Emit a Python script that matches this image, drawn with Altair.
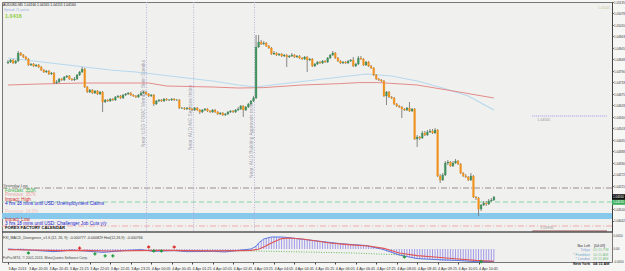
import altair as alt
import pandas as pd

# ---------------- data ----------------
first_open = 1.04830
close = [
    1.04835, 1.04845, 1.04830, 1.04840, 1.04880, 1.04870, 1.04860, 1.04850, 1.04820, 1.04825,
    1.04815, 1.04820, 1.04810, 1.04795, 1.04785, 1.04790, 1.04775, 1.04780, 1.04730, 1.04735,
    1.04750, 1.04745, 1.04760, 1.04765, 1.04750, 1.04745, 1.04750, 1.04770, 1.04785, 1.04800,
    1.04710, 1.04685, 1.04695, 1.04680, 1.04690, 1.04675, 1.04685, 1.04635, 1.04645, 1.04640,
    1.04650, 1.04645, 1.04660, 1.04665, 1.04655, 1.04670, 1.04675, 1.04680, 1.04670, 1.04665,
    1.04660, 1.04670, 1.04680, 1.04685, 1.04675, 1.04665, 1.04670, 1.04625, 1.04640, 1.04645,
    1.04640, 1.04650, 1.04645, 1.04645, 1.04650, 1.04645, 1.04645, 1.04605, 1.04605, 1.04600,
    1.04605, 1.04600, 1.04595, 1.04605, 1.04595, 1.04585, 1.04595, 1.04600, 1.04590, 1.04585,
    1.04595, 1.04585, 1.04575, 1.04580, 1.04570, 1.04575, 1.04585, 1.04590, 1.04585, 1.04595,
    1.04600, 1.04615, 1.04595, 1.04610, 1.04625, 1.04640, 1.04655, 1.04910, 1.04935, 1.04925,
    1.04930, 1.04915, 1.04905, 1.04875, 1.04880, 1.04870, 1.04875, 1.04865, 1.04870, 1.04860,
    1.04865, 1.04870, 1.04860, 1.04865, 1.04855, 1.04850, 1.04860, 1.04845, 1.04850, 1.04815,
    1.04825, 1.04835, 1.04830, 1.04840, 1.04835, 1.04855, 1.04870, 1.04880, 1.04855, 1.04840,
    1.04830, 1.04835, 1.04830, 1.04840, 1.04845, 1.04815, 1.04825, 1.04855, 1.04850, 1.04820,
    1.04835, 1.04815, 1.04805, 1.04770, 1.04750, 1.04745, 1.04740, 1.04665, 1.04685, 1.04660,
    1.04655, 1.04625, 1.04615, 1.04610, 1.04600, 1.04595, 1.04605, 1.04590, 1.04600, 1.04450,
    1.04460, 1.04455, 1.04480, 1.04470, 1.04485, 1.04490, 1.04480, 1.04495, 1.04265, 1.04245,
    1.04270, 1.04330, 1.04335, 1.04315, 1.04330, 1.04340, 1.04325, 1.04280, 1.04265, 1.04260,
    1.04245, 1.04265, 1.04160, 1.04155, 1.04100, 1.04120, 1.04130, 1.04125, 1.04140, 1.04145,
    1.04160,
]
high = [
    1.04845, 1.04850, 1.04850, 1.04845, 1.04890, 1.04885, 1.04875, 1.04865, 1.04855, 1.04830,
    1.04830, 1.04825, 1.04825, 1.04815, 1.04800, 1.04795, 1.04795, 1.04785, 1.04785, 1.04745,
    1.04755, 1.04755, 1.04765, 1.04770, 1.04770, 1.04755, 1.04760, 1.04775, 1.04790, 1.04810,
    1.04805, 1.04715, 1.04700, 1.04700, 1.04695, 1.04695, 1.04690, 1.04690, 1.04650, 1.04650,
    1.04655, 1.04655, 1.04665, 1.04670, 1.04670, 1.04675, 1.04680, 1.04685, 1.04685, 1.04675,
    1.04670, 1.04675, 1.04690, 1.04690, 1.04690, 1.04680, 1.04675, 1.04675, 1.04645, 1.04650,
    1.04650, 1.04655, 1.04655, 1.04650, 1.04655, 1.04655, 1.04650, 1.04650, 1.04610, 1.04610,
    1.04610, 1.04610, 1.04605, 1.04610, 1.04610, 1.04600, 1.04600, 1.04605, 1.04605, 1.04595,
    1.04600, 1.04600, 1.04590, 1.04585, 1.04585, 1.04580, 1.04590, 1.04595, 1.04595, 1.04600,
    1.04610, 1.04620, 1.04620, 1.04615, 1.04630, 1.04645, 1.04665, 1.04970, 1.04970, 1.04945,
    1.04940, 1.04935, 1.04920, 1.04910, 1.04890, 1.04885, 1.04880, 1.04880, 1.04875, 1.04875,
    1.04870, 1.04880, 1.04875, 1.04870, 1.04870, 1.04860, 1.04865, 1.04865, 1.04855, 1.04855,
    1.04830, 1.04840, 1.04840, 1.04845, 1.04845, 1.04860, 1.04875, 1.04890, 1.04885, 1.04860,
    1.04845, 1.04840, 1.04840, 1.04845, 1.04850, 1.04860, 1.04830, 1.04865, 1.04865, 1.04855,
    1.04840, 1.04840, 1.04820, 1.04810, 1.04775, 1.04755, 1.04750, 1.04745, 1.04690, 1.04690,
    1.04665, 1.04660, 1.04630, 1.04620, 1.04615, 1.04605, 1.04610, 1.04635, 1.04605, 1.04605,
    1.04470, 1.04465, 1.04490, 1.04490, 1.04495, 1.04500, 1.04500, 1.04505, 1.04500, 1.04275,
    1.04280, 1.04340, 1.04345, 1.04340, 1.04340, 1.04350, 1.04345, 1.04330, 1.04285, 1.04275,
    1.04265, 1.04280, 1.04270, 1.04165, 1.04160, 1.04125, 1.04140, 1.04140, 1.04150, 1.04155,
    1.04165,
]
low = [
    1.04825, 1.04830, 1.04825, 1.04825, 1.04835, 1.04865, 1.04855, 1.04845, 1.04815, 1.04815,
    1.04810, 1.04810, 1.04805, 1.04790, 1.04780, 1.04780, 1.04770, 1.04770, 1.04725, 1.04725,
    1.04730, 1.04740, 1.04740, 1.04755, 1.04745, 1.04740, 1.04740, 1.04745, 1.04765, 1.04780,
    1.04705, 1.04680, 1.04680, 1.04675, 1.04675, 1.04670, 1.04670, 1.04585, 1.04630, 1.04635,
    1.04635, 1.04640, 1.04640, 1.04655, 1.04650, 1.04650, 1.04665, 1.04670, 1.04665, 1.04660,
    1.04655, 1.04655, 1.04665, 1.04675, 1.04670, 1.04660, 1.04660, 1.04615, 1.04620, 1.04635,
    1.04635, 1.04635, 1.04640, 1.04640, 1.04640, 1.04640, 1.04640, 1.04600, 1.04600, 1.04595,
    1.04595, 1.04595, 1.04590, 1.04590, 1.04590, 1.04575, 1.04580, 1.04590, 1.04585, 1.04580,
    1.04580, 1.04580, 1.04570, 1.04570, 1.04565, 1.04565, 1.04570, 1.04580, 1.04580, 1.04580,
    1.04590, 1.04595, 1.04560, 1.04590, 1.04605, 1.04620, 1.04635, 1.04650, 1.04905, 1.04920,
    1.04920, 1.04910, 1.04900, 1.04870, 1.04870, 1.04865, 1.04865, 1.04860, 1.04860, 1.04810,
    1.04855, 1.04860, 1.04855, 1.04855, 1.04850, 1.04845, 1.04845, 1.04785, 1.04840, 1.04810,
    1.04810, 1.04820, 1.04825, 1.04825, 1.04830, 1.04830, 1.04850, 1.04865, 1.04850, 1.04835,
    1.04825, 1.04825, 1.04825, 1.04825, 1.04835, 1.04810, 1.04810, 1.04820, 1.04845, 1.04815,
    1.04815, 1.04810, 1.04800, 1.04765, 1.04745, 1.04740, 1.04735, 1.04660, 1.04620, 1.04655,
    1.04650, 1.04620, 1.04610, 1.04605, 1.04555, 1.04590, 1.04590, 1.04585, 1.04585, 1.04445,
    1.04410, 1.04445, 1.04450, 1.04465, 1.04465, 1.04480, 1.04475, 1.04475, 1.04260, 1.04230,
    1.04240, 1.04265, 1.04320, 1.04310, 1.04310, 1.04325, 1.04320, 1.04275, 1.04260, 1.04255,
    1.04240, 1.04240, 1.04155, 1.04145, 1.04065, 1.04090, 1.04115, 1.04115, 1.04120, 1.04135,
    1.04140,
]

# moving averages (sampled at bar numbers)
ma_slow_bar = [0, 10, 20, 30, 40, 50, 60, 70, 80, 90, 97, 100, 110, 120, 130, 140, 150, 160, 170, 180, 190]
ma_slow = [1.04855, 1.04840, 1.04825, 1.04810, 1.04795, 1.04785, 1.04770, 1.04755, 1.04740, 1.04720, 1.04710,
           1.04715, 1.04730, 1.04745, 1.04760, 1.04775, 1.04765, 1.04740, 1.04705, 1.04665, 1.04595]
ma_fast_bar = [0, 12, 30, 55, 62, 80, 90, 100, 115, 130, 137, 145, 160, 176, 190]
ma_fast = [1.04720, 1.04725, 1.04730, 1.04730, 1.04715, 1.04710, 1.04705, 1.04707, 1.04720, 1.04727,
           1.04732, 1.04732, 1.04720, 1.04686, 1.04655]

# horizontal levels
level_price = [1.04205, 1.04135, 1.04015]
level_color = ["#9b8c8c", "#86d3a4", "#f2aaaa"]
level_dash = [[6, 2, 1, 2], [5, 3], [6, 2, 1, 2]]
band_top, band_bot = 1.04080, 1.04050
future_price = [1.04565, 1.03990]
future_color = ["#a393f0", "#a04848"]
future_label = ["1.04565", "1.03990"]

# news markers
news_time = ["2013-04-03 23:56", "2013-04-04 01:28", "2013-04-04 03:27"]
news_text = ["Near: USD FOMC Member Stein Speaks", "Near: AUD AIG Services Index",
             "Near: AUD Building Approvals m/m"]
news_text_price = [1.04410, 1.04395, 1.04255]

# MACD divergence indicator (points = 0.00001)
macd_hist_pts = [
    2, 3, 0, -2, 5, 6, 4, 2, -3, -5,
    -6, -8, -9, -11, -13, -14, -15, -15, -20, -22,
    -20, -19, -17, -15, -14, -13, -11, -9, -6, -3,
    -10, -15, -18, -20, -21, -22, -22, -26, -27, -27,
    -26, -25, -23, -21, -20, -18, -16, -14, -13, -12,
    -11, -10, -8, -6, -6, -7, -8, -13, -15, -16,
    -16, -15, -15, -14, -13, -13, -12, -16, -18, -19,
    -20, -20, -21, -21, -21, -22, -21, -21, -21, -22,
    -21, -21, -22, -23, -23, -23, -22, -21, -20, -19,
    -18, -15, -16, -14, -10, -6, -1, 25, 45, 60,
    72, 80, 85, 88, 90, 90, 89, 88, 86, 84,
    82, 80, 78, 76, 74, 72, 70, 68, 65, 62,
    60, 58, 56, 54, 52, 51, 50, 50, 46, 42,
    39, 37, 35, 33, 32, 30, 28, 28, 27, 25,
    25, 24, 22, 18, 13, 8, 2, -10, -18, -24,
    -30, -36, -41, -46, -50, -54, -57, -60, -62, -70,
    -74, -76, -77, -77, -76, -75, -74, -73, -82, -88,
    -91, -90, -89, -88, -87, -86, -86, -88, -90, -91,
    -92, -92, -95, -96, -97, -97, -97, -96, -95, -94,
    -93,
]
signal_bar = [0, 10, 20, 30, 40, 50, 60, 70, 80, 90, 95, 98, 100, 103, 107, 110, 115, 120, 126, 133,
              141, 147, 153, 160, 168, 176, 183, 190]
signal_pts = [-5, -8, -12, -10, -15, -12, -10, -12, -14, -12, -10, -2, 15, 45, 78, 82, 75, 62, 45, 33,
              22, 5, -30, -50, -62, -75, -85, -92]
macd_bar = [0, 10, 18, 25, 30, 37, 45, 52, 57, 65, 70, 80, 85, 90, 95, 97, 98, 100, 103, 107, 110,
            120, 130, 140, 147, 153, 160, 168, 176, 183, 190]
macd_pts = [0, -10, -20, -8, -15, -25, -12, -5, -18, -12, -20, -18, -22, -10, 0, 20, 45, 75, 90, 90, 85,
            62, 40, 26, -5, -45, -72, -80, -86, -95, -93]
trend_bar = [55, 75, 97, 115, 135, 155]
trend_pts = [-8, -12, -15, -22, -30, -45]
div_up_bar = [8, 34, 38, 41, 57, 60, 155, 185]
div_up_pts = [-30, -37, -52, -52, -15, -15, -60, -95]
div_dn_bar = [28, 55, 65]
div_dn_pts = [7, 15, 15]

price_ticks = [1.051350, 1.050775, 1.050200, 1.049625, 1.049050, 1.048475, 1.047900, 1.047325,
               1.046750, 1.046175, 1.045600, 1.045025, 1.044450, 1.043875, 1.043300, 1.042725,
               1.042150, 1.041000, 1.040425]
ind_ticks = [0.000975, 0.0, -0.000975]
ind_tick_text = ["0.0010", "0.00", "-0.0010"]

# ---------------- frames ----------------
FONT = "Liberation Sans"
PAD_L, PAD_T = 2, 2
times = pd.date_range("2013-04-03 19:25", periods=len(close), freq="5min")
opens = [first_open] + close[:-1]
candles = pd.DataFrame({"t": times, "open": opens, "close": close, "high": high, "low": low})
candles["dir"] = ["up" if c >= o else "down" for o, c in zip(opens, close)]
candles["hist"] = [v / 1e5 for v in macd_hist_pts]
candles["zero"] = 0.0

Y_LO, Y_HI = 1.03985, 1.05135
I_LO, I_HI = -0.000975, 0.001125
MAIN = alt.Scale(domain=[Y_LO, Y_HI], range=[230, 0], zero=False, nice=False)
IND = alt.Scale(domain=[I_LO, I_HI], range=[260, 232], zero=False, nice=False)
YAX = alt.Axis(orient="right", values=price_ticks, format=".5f", labelFontSize=3.0, labelColor="#333",
               tickSize=1.2, tickColor="#444", domainColor="#444", labelPadding=0.3, grid=False,
               labelFlush=False, labelOverlap=False, labelFont=FONT)

X_DOMAIN = [alt.DateTime(year=2013, month=4, date=3, hours=19, minutes=23, seconds=5),
            alt.DateTime(year=2013, month=4, date=4, hours=14, minutes=56, seconds=9)]
tick_vals = [alt.DateTime(year=t.year, month=t.month, date=t.day, hours=t.hour, minutes=t.minute)
             for t in times[::8]]
XAX = alt.Axis(values=tick_vals, labelAlign="left", labelFontSize=3.7, labelColor="#333",
               labelPadding=2, tickSize=2, tickColor="#444", domain=False, grid=False,
               labelFlush=False, labelOverlap=False, labelFont=FONT,
               labelExpr="timeFormat(datum.value, datum.value < datetime(2013,3,3,19,30) ? '%-d %b %Y' : '%-d %b %H:%M')")
X = alt.X("t:T", scale=alt.Scale(domain=X_DOMAIN), axis=XAX, title=None)


def ym(field):
    return alt.Y(field, scale=MAIN, axis=YAX, title=None)


def yi(field):
    return alt.Y(field, scale=IND, axis=None, title=None)


def sampled(bars, vals, scale=1.0):
    return pd.DataFrame({"t": [times[b] for b in bars], "v": [v * scale for v in vals]})


# ---------------- main panel ----------------
main_layers = []
main_layers.append(
    alt.Chart(pd.DataFrame({"top": [band_top], "bot": [band_bot]}))
    .mark_rect(color="#86c9ec").encode(y=ym("top:Q"), y2="bot:Q"))
for p, c, d in zip(level_price, level_color, level_dash):
    main_layers.append(
        alt.Chart(pd.DataFrame({"p": [p]})).mark_rule(color=c, strokeDash=d, strokeWidth=1)
        .encode(y=ym("p:Q")))

news = pd.DataFrame({"t": pd.to_datetime(news_time), "label": news_text, "tp": news_text_price,
                     "top": Y_HI, "bot": Y_LO})
main_layers.append(
    alt.Chart(news).mark_rule(color="#b9aedd", strokeDash=[1, 1.5], strokeWidth=1)
    .encode(x=X, y=ym("top:Q"), y2="bot:Q"))
main_layers.append(
    alt.Chart(news).mark_text(angle=270, align="left", baseline="bottom", dy=-1, fontSize=4.8,
                              color="#9d9db0", font=FONT)
    .encode(x=X, y=ym("tp:Q"), text="label:N"))

main_layers.append(
    alt.Chart(sampled(ma_slow_bar, ma_slow)).mark_line(color="#b7d8ee", strokeWidth=1.2)
    .encode(x=X, y=ym("v:Q")))
main_layers.append(
    alt.Chart(sampled(ma_fast_bar, ma_fast)).mark_line(color="#e27f7f", strokeWidth=0.9)
    .encode(x=X, y=ym("v:Q")))

main_layers.append(
    alt.Chart(candles).mark_rule(color="#7a7a7a", strokeWidth=0.9)
    .encode(x=X, y=ym("low:Q"), y2="high:Q"))
dir_scale = alt.Scale(domain=["up", "down"], range=["#3f8f5c", "#f0921e"])
main_layers.append(
    alt.Chart(candles).mark_bar(width=1.8, strokeWidth=0.3)
    .encode(x=X, y=ym("open:Q"), y2="close:Q",
            color=alt.Color("dir:N", scale=dir_scale, legend=None),
            stroke=alt.Stroke("dir:N", scale=dir_scale, legend=None)))

fut = pd.DataFrame({"t": [times[0] + pd.Timedelta(minutes=5 * 205)] * 2,
                    "t2": [pd.Timestamp("2013-04-04 14:56:09")] * 2,
                    "p": future_price, "c": future_color, "lab": future_label})
main_layers.append(
    alt.Chart(fut.iloc[[0]]).mark_rule(color=future_color[0], strokeDash=[1, 1], strokeWidth=1)
    .encode(x=X, x2="t2:T", y=ym("p:Q")))
main_layers.append(
    alt.Chart(fut.iloc[[1]]).mark_rule(color=future_color[1], strokeWidth=1)
    .encode(x=X, x2="t2:T", y=ym("p:Q")))
main_layers.append(
    alt.Chart(fut.iloc[[0]]).mark_text(align="left", baseline="top", dx=5, dy=1.5, fontSize=3.6,
                                       color="#999", font=FONT)
    .encode(x=X, y=ym("p:Q"), text="lab:N"))
main_layers.append(
    alt.Chart(fut.iloc[[1]]).mark_text(align="left", baseline="bottom", dx=8, dy=-1, fontSize=3.6,
                                       color="#999", font=FONT)
    .encode(x=X, y=ym("p:Q"), text="lab:N"))

main_layers.append(
    alt.Chart(pd.DataFrame({"p": [Y_LO]})).mark_rule(color="#555", strokeWidth=1.5)
    .encode(y=ym("p:Q")))

boxes = pd.DataFrame({"p": [1.04135, 1.04160], "fill": ["#3daf5c", "#111111"],
                      "lab": ["1.04135", "1.04160"]})
boxes["top"] = boxes["p"] + 0.00014
boxes["bot"] = boxes["p"] - 0.00014
main_layers.append(
    alt.Chart(boxes).mark_rect()
    .encode(x=alt.value(610), x2=alt.value(623), y=ym("top:Q"), y2="bot:Q",
            color=alt.Color("fill:N", scale=None)))
main_layers.append(
    alt.Chart(boxes).mark_text(align="left", baseline="middle", fontSize=3.0, color="white", font=FONT)
    .encode(x=alt.value(611), y=ym("p:Q"), text="lab:N"))

main = alt.layer(*main_layers)

# ---------------- indicator panel ----------------
ind_layers = []
ind_layers.append(
    alt.Chart(candles).mark_rule(color="#8b83ea", strokeWidth=0.8)
    .encode(x=X, y=yi("hist:Q"), y2="zero:Q"))
ind_layers.append(
    alt.Chart(sampled(trend_bar, trend_pts, 1e-5)).mark_line(color="#66b866", strokeDash=[1, 1.5],
                                                                strokeWidth=1)
    .encode(x=X, y=yi("v:Q")))
ind_layers.append(
    alt.Chart(sampled(macd_bar, macd_pts, 1e-5)).mark_line(color="#5b78e0", strokeWidth=1)
    .encode(x=X, y=yi("v:Q")))
ind_layers.append(
    alt.Chart(sampled(signal_bar, signal_pts, 1e-5)).mark_line(color="#e05454", strokeWidth=1.1)
    .encode(x=X, y=yi("v:Q")))
ind_layers.append(
    alt.Chart(sampled(div_up_bar, div_up_pts, 1e-5)).mark_point(shape="cross", filled=True, size=10,
                                                                 color="#1f9a3a", opacity=1)
    .encode(x=X, y=yi("v:Q")))
ind_layers.append(
    alt.Chart(sampled(div_dn_bar, div_dn_pts, 1e-5)).mark_point(shape="cross", filled=True, size=10,
                                                                 color="#e02a2a", opacity=1)
    .encode(x=X, y=yi("v:Q")))
ind_layers.append(
    alt.Chart(pd.DataFrame({"v": ind_ticks, "lab": ind_tick_text}))
    .mark_text(align="left", baseline="middle", fontSize=3.0, color="#333", font=FONT)
    .encode(x=alt.value(611.5), y=yi("v:Q"), text="lab:N"))
ind = alt.layer(*ind_layers)

# ---------------- text annotations ----------------
ONE = pd.DataFrame({"k": [0]})
notes = [
    ("AUDUSD,M5  1.04160 1.04165 1.04155 1.04160", 3, 4.5, "#222", 3.4, "left", "normal"),
    ("Spread: 21 points", 4, 9.5, "#95b0de", 3.2, "left", "normal"),
    ("1.0416", 5, 15.5, "#8fcc3c", 5.5, "left", "bold"),
    ("1.05045", 598, 8, "#c9c79a", 3.4, "left", "normal"),
    ("Yesterday Low", 3, 186, "#555", 3.8, "left", "normal"),
    ("Forecast: 353K", 5, 190.5, "#41b04a", 4.6, "left", "normal"),
    ("Previous: 357K", 5, 195, "#eaa2a2", 4.6, "left", "normal"),
    ("Impact: High", 5, 199.5, "#d42a2a", 4.6, "left", "normal"),
    ("4 hrs 18 mins until USD: Unemployment Claims", 5, 204, "#2020d0", 4.7, "left", "normal"),
    ("Previous: 24.0%", 5, 211.5, "#f0c4c4", 4.6, "left", "normal"),
    ("Impact: Low", 5, 219.5, "#d42a2a", 4.6, "left", "normal"),
    ("3 hrs 18 mins until USD: Challenger Job Cuts y/y", 5, 223.8, "#2020d0", 4.7, "left", "normal"),
    ("FOREX FACTORY CALENDAR", 5, 228.3, "#111", 4.2, "left", "bold"),
    ("FXI_MACD_Divergence_v1.6 (12, 26, 9): -0.000777 -0.000829  Hist(12,26,9): -0.000766",
     3, 237.5, "#333", 3.6, "left", "normal"),
    ("FxPro MT4, \u00a9 2001-2013, MetaQuotes Software Corp.", 3, 258, "#444", 3.5, "left", "normal"),
    ("Bar Left", 590, 245.5, "#333", 3.6, "right", "normal"),
    ("[04:09]", 594, 245.5, "#333", 3.6, "left", "normal"),
    ("Tokyo", 590, 250, "#7c9fd8", 3.6, "right", "normal"),
    ("05:15 PM", 593, 250, "#7cbf8c", 3.6, "left", "normal"),
    ("* Frankfurt", 590, 254.5, "#6aa6c8", 3.6, "right", "normal"),
    ("10:15 AM", 593, 254.5, "#7cbf8c", 3.6, "left", "normal"),
    ("* London", 590, 259, "#7c9fd8", 3.6, "right", "normal"),
    ("09:15 AM", 593, 259, "#7cbf8c", 3.6, "left", "normal"),
    ("New York", 590, 264, "#222", 3.8, "right", "bold"),
    ("04:15 AM", 593, 264, "#222", 3.8, "left", "bold"),
]
note_layers = []
for text, sx, sy, col, size, align, weight in notes:
    note_layers.append(
        alt.Chart(ONE).mark_text(text=text, color=col, fontSize=size, align=align, baseline="middle",
                                 fontWeight=weight, font=FONT)
        .encode(x=alt.value(sx - PAD_L), y=alt.value(sy - PAD_T)))

chart = (
    alt.layer(main, ind, *note_layers)
    .resolve_scale(y="independent")
    .properties(width=610, height=260,
                padding={"left": PAD_L, "top": PAD_T, "right": 13, "bottom": 9},
                autosize=alt.AutoSizeParams(type="none"),
                background="#f6f6f4")
    .configure_view(stroke="#777", strokeWidth=1, fill="#f0f1ee")
    .configure_text(font=FONT)
)

chart.save("out.html", embed_options={"renderer": "svg", "actions": False})
